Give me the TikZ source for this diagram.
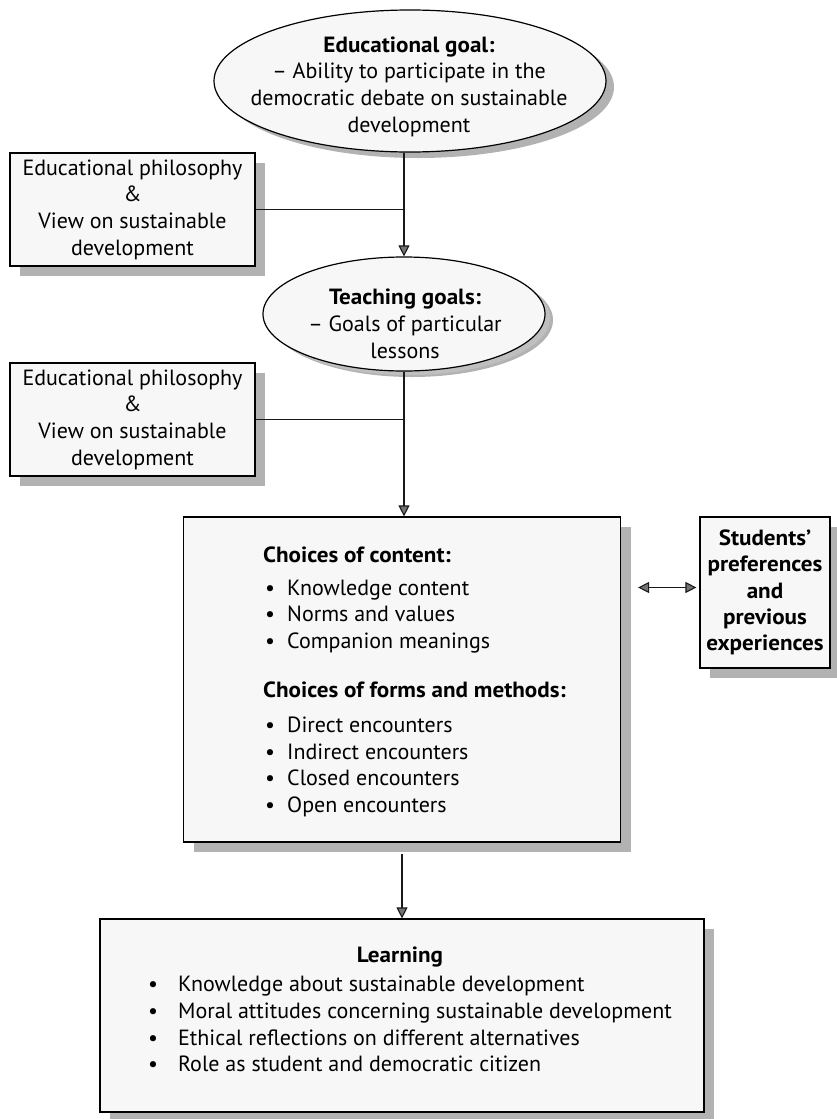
\documentclass[tikz,border=0pt]{standalone}
\usepackage{fontspec}
\setmainfont{PT Sans}[BoldFeatures={FakeStretch=1.05}]
\usetikzlibrary{arrows.meta,shapes.geometric,shadows}

\tikzset{
  txt/.style={font=\fontsize{22}{26.7}\selectfont, inner sep=0pt, align=center},
  boxed/.style={draw=black, line width=1.2pt, fill=black!3, inner sep=0pt,
    drop shadow={shadow xshift=10pt, shadow yshift=-10pt, fill=black!30, opacity=1}},
  oval/.style={ellipse, draw=black, line width=1.2pt, fill=black!3, inner sep=0pt,
    drop shadow={shadow xshift=8pt, shadow yshift=-6pt, fill=black!30, opacity=1}},
  link/.style={line width=1.1pt, draw=black!90},
  headtip/.tip={Triangle[length=11pt, width=11pt, fill=black!55]},
  tip/.style={-headtip},
  both/.style={headtip-headtip},
}

\begin{document}
\begin{tikzpicture}[x=1pt, y=-1pt]
  \useasboundingbox (0,0) rectangle (837,1119);

  % goals
  \node[oval, minimum width=392pt, minimum height=142pt] (goal) at (410,81) {};
  \node[txt] (goaltext) at (409,86.5)
    {\textbf{Educational goal:}\\ – Ability to participate in the\\
     democratic debate on sustainable\\ development};

  \node[oval, minimum width=282pt, minimum height=114pt,
    drop shadow={shadow xshift=5pt, shadow yshift=-4pt, fill=black!25, opacity=1}]
    (teach) at (404,314) {};
  \node[txt] (teachtext) at (405,324)
    {\textbf{Teaching goals:}\\ – Goals of particular\\ lessons};

  % philosophy boxes
  \node[boxed, txt, minimum width=245pt, minimum height=113pt] (phil1) at (132.5,209.5)
    {Educational philosophy\\ \&\\ View on sustainable\\ development};
  \node[boxed, txt, minimum width=245pt, minimum height=113pt] (phil2) at (132.5,419.5)
    {Educational philosophy\\ \&\\ View on sustainable\\ development};

  % choices
  \node[boxed, minimum width=437pt, minimum height=325pt] (main) at (402,679.5) {};
  \node[txt, align=left, anchor=west] (content) at (263,600)
    {\textbf{Choices of content:}\\[6pt]
     \hspace{2pt}\makebox[22pt][l]{•}Knowledge content\\
     \hspace{2pt}\makebox[22pt][l]{•}Norms and values\\
     \hspace{2pt}\makebox[22pt][l]{•}Companion meanings};
  \node[txt, align=left, anchor=west] (forms) at (263,749.5)
    {\textbf{Choices of forms and methods:}\\[8pt]
     \hspace{2pt}\makebox[22pt][l]{•}Direct encounters\\
     \hspace{2pt}\makebox[22pt][l]{•}Indirect encounters\\
     \hspace{2pt}\makebox[22pt][l]{•}Closed encounters\\
     \hspace{2pt}\makebox[22pt][l]{•}Open encounters};

  % students
  \node[boxed, txt, font=\fontsize{22}{26.3}\selectfont\bfseries,
    minimum width=130pt, minimum height=151pt] (studs) at (765,592.5)
    {Students’\\ preferences\\ and\\ previous\\ experiences};

  % learning
  \node[boxed, minimum width=604pt, minimum height=193pt] (learn) at (402,1015.5) {};
  \node[txt, font=\fontsize{22}{26.7}\selectfont\bfseries] (learntitle) at (400,957) {Learning};
  \node[txt, align=left, anchor=west] (learnlist) at (148,1024)
    {\makebox[30pt][l]{•}Knowledge about sustainable development\\
     \makebox[30pt][l]{•}Moral attitudes concerning sustainable development\\
     \makebox[30pt][l]{•}Ethical reflections on different alternatives\\
     \makebox[30pt][l]{•}Role as student and democratic citizen};

  % connectors
  \draw[link, tip] (teach.north |- goal.south) -- (teach.north);
  \draw[link] (phil1.east) -- (phil1.east -| teach.north);
  \draw[link, tip] (teach.south) -- (teach.south |- main.north);
  \draw[link] (phil2.east) -- (phil2.east -| teach.south);
  \draw[link, tip] ([yshift=-11pt]main.south) -- (learn.north);
  \draw[link, both] ([xshift=17pt, yshift=5pt]main.east |- studs.west) -- ([xshift=-3pt, yshift=5pt]studs.west);
\end{tikzpicture}
\end{document}
